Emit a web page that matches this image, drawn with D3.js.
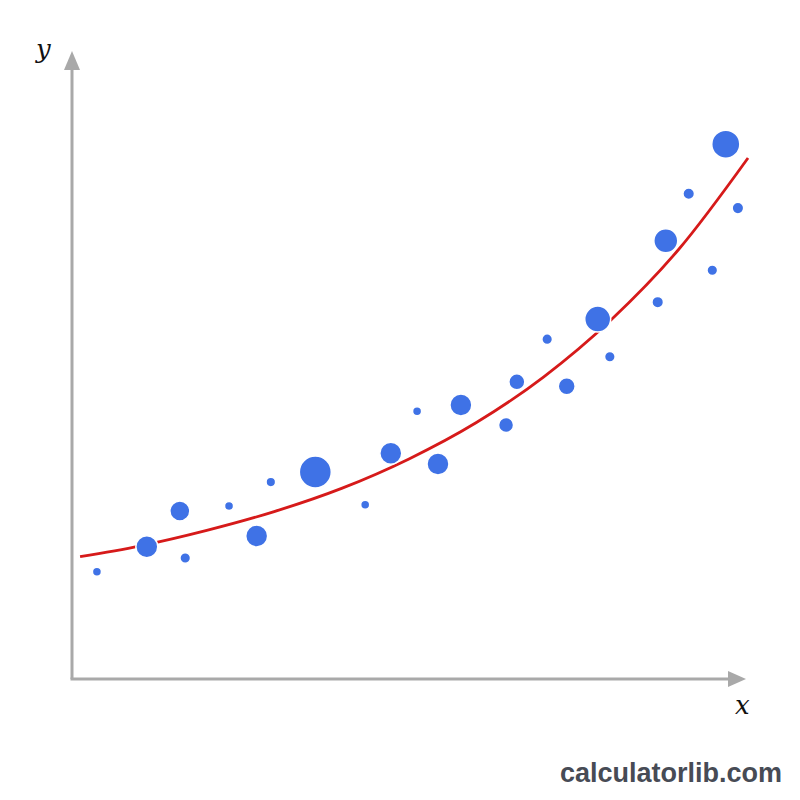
<!DOCTYPE html>
<html lang="en">
<head>
  <meta charset="UTF-8">
  <script src="https://cdn.jsdelivr.net/npm/d3@7"></script>
  <title>Exponential fit</title>
  <style>
    body { margin: 0; background: #fff; }
    .axis-line { stroke: #a9a9a9; stroke-width: 3; }
    .arrow { fill: #a9a9a9; }
    .dot { fill: #3f72e6; stroke: #fff; stroke-width: 1.5; }
    .fit { fill: none; stroke: #d61a1a; stroke-width: 2.8; }
    .lbl { font-family: "DejaVu Serif", "Liberation Serif", serif; font-style: italic; font-size: 26px; fill: #111; }
    .mark { font-family: "Liberation Sans", Arial, sans-serif; font-weight: bold; font-size: 27px; fill: #474b55; }
  </style>
</head>
<body>
  <script>
    // scattered observations (x, y) and bubble weight
    const xs = [0.37, 1.11, 1.60, 1.68, 2.33, 2.74, 2.95, 3.61, 4.35, 4.73, 5.12, 5.43, 5.77,
                6.44, 6.60, 7.05, 7.34, 7.80, 7.98, 8.69, 8.81, 9.15, 9.50, 9.70, 9.88]
    const ys = [1.71, 2.11, 2.68, 1.93, 2.76, 2.28, 3.14, 3.30, 2.78, 3.60, 4.27, 3.43, 4.37,
                4.05, 4.74, 5.42, 4.67, 5.74, 5.14, 6.01, 6.99, 7.74, 6.52, 8.53, 7.51]
    const weights = [8, 47, 39, 11, 8, 47, 9, 100, 8, 47, 8, 47, 47,
                     22, 25, 11, 28, 66, 11, 13, 56, 13, 11, 77, 13]

    // trend curve
    const fitX = [0.12, 1, 2, 3, 4, 5, 6, 7, 8, 9, 10.03]
    const fitY = [1.95, 2.12, 2.37, 2.67, 3.04, 3.51, 4.09, 4.82, 5.73, 6.85, 8.31]

    const svg = d3.select('body').append('svg')
      .attr('width', 800)
      .attr('height', 800)

    const x = d3.scaleLinear().domain([0, 10]).range([72, 746])
    const y = d3.scaleLinear().domain([0, 10]).range([679, 52])
    const r = d3.scaleSqrt().domain([0, 100]).range([0, 16])

    // axes
    svg.append('line').attr('class', 'axis-line')
      .attr('x1', x(0)).attr('y1', y(0)).attr('x2', x(0)).attr('y2', y(10) + 14)
    svg.append('line').attr('class', 'axis-line')
      .attr('x1', x(0) - 1.5).attr('y1', y(0)).attr('x2', x(10) - 14).attr('y2', y(0))

    svg.append('path').attr('class', 'arrow')
      .attr('d', `M${x(0)},${y(10) - 1} L${x(0) - 8},${y(10) + 18} L${x(0) + 8},${y(10) + 18} Z`)
    svg.append('path').attr('class', 'arrow')
      .attr('d', `M${x(10)},${y(0)} L${x(10) - 18},${y(0) - 8} L${x(10) - 18},${y(0) + 8} Z`)

    svg.append('text').attr('class', 'lbl').attr('x', 36).attr('y', 58).text('y')
    svg.append('text').attr('class', 'lbl').attr('x', 735).attr('y', 714).text('x')

    // fitted curve
    const line = d3.line()
      .x(d => x(d[0]))
      .y(d => y(d[1]))
      .curve(d3.curveMonotoneX)
    svg.append('path').attr('class', 'fit')
      .datum(d3.zip(fitX, fitY))
      .attr('d', line)

    // points
    svg.selectAll('circle.dot')
      .data(d3.range(xs.length)).enter()
      .append('circle').attr('class', 'dot')
      .attr('cx', i => x(xs[i]))
      .attr('cy', i => y(ys[i]))
      .attr('r', i => r(weights[i]))

    svg.append('text').attr('class', 'mark')
      .attr('x', 782).attr('y', 782)
      .attr('text-anchor', 'end')
      .text('calculatorlib.com')
  </script>
</body>
</html>
